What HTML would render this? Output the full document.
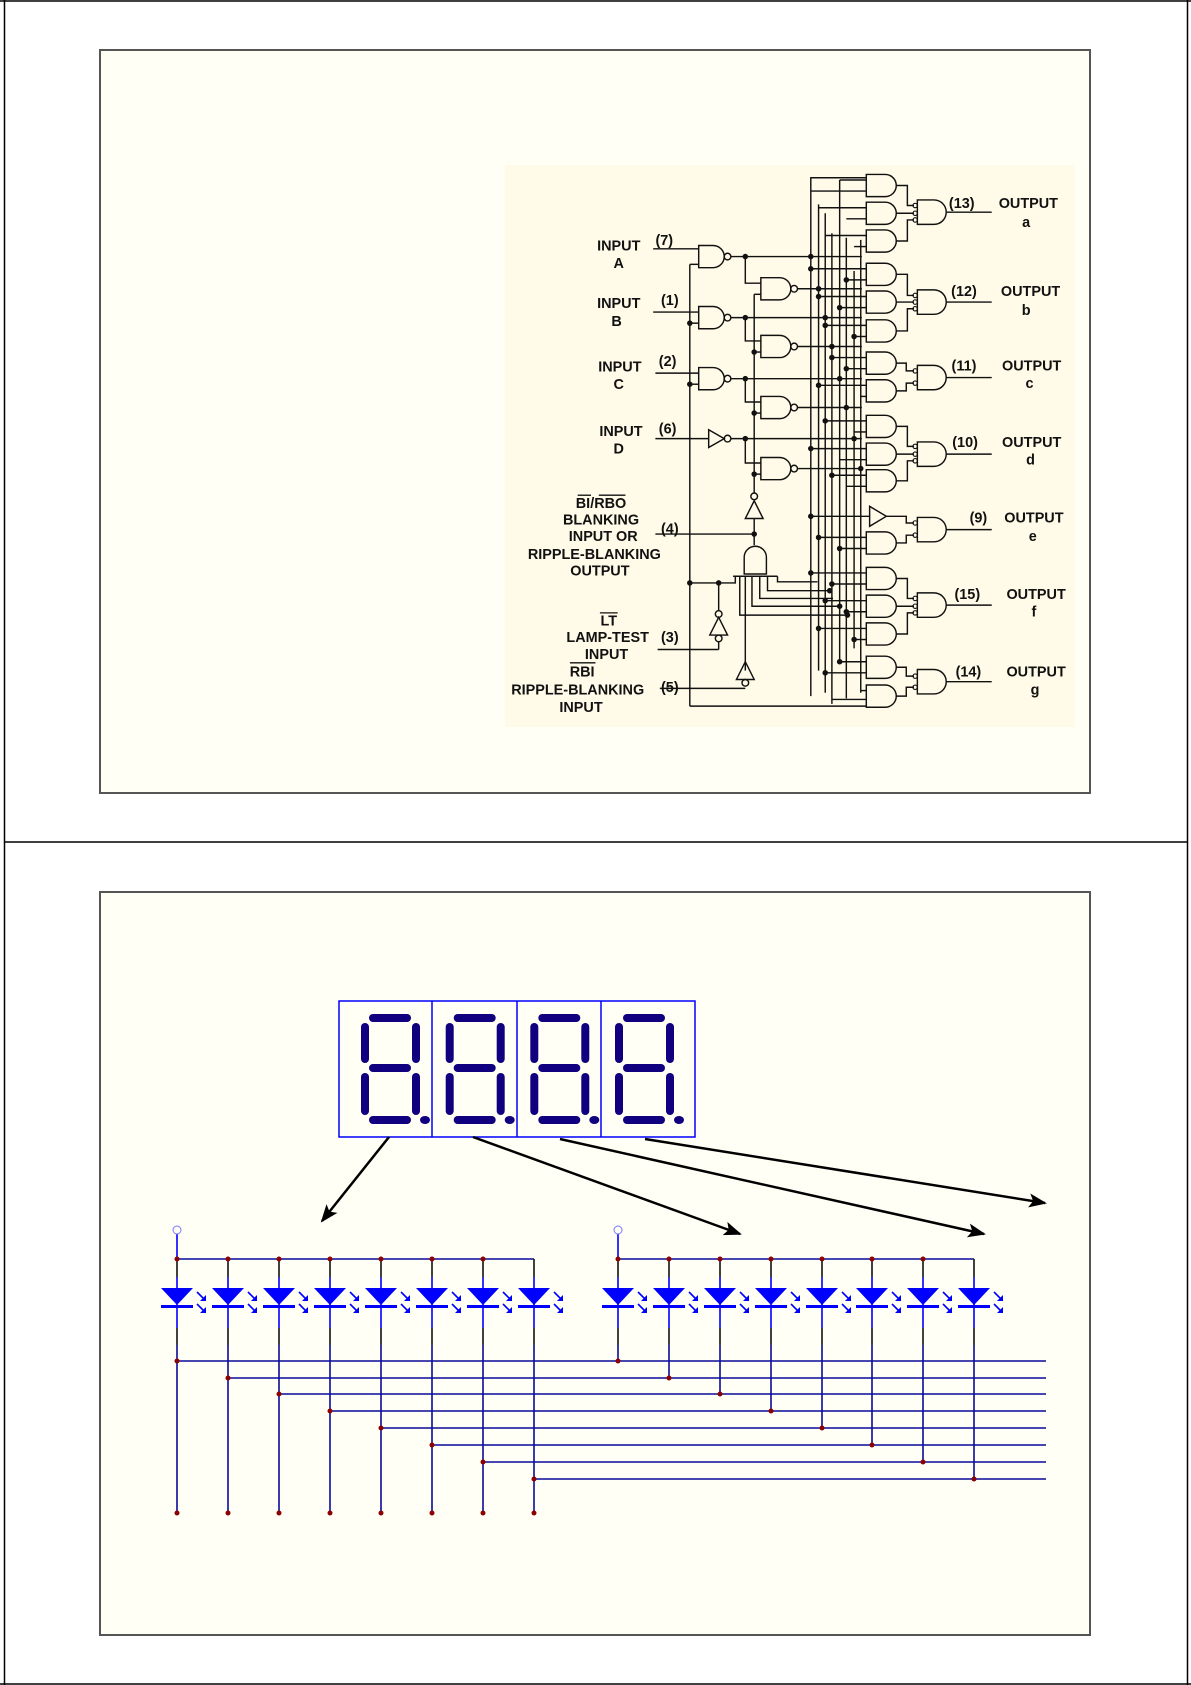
<!DOCTYPE html>
<html><head><meta charset="utf-8"><style>
html,body{margin:0;padding:0;background:#fff;}
body{width:1191px;height:1685px;position:relative;overflow:hidden;font-family:"Liberation Sans",sans-serif;}
svg{position:absolute;left:0;top:0;}
.t{font-family:"Liberation Sans",sans-serif;font-weight:bold;font-size:13px;fill:#111;text-anchor:middle;dominant-baseline:middle;}
</style></head><body>
<svg width="1191" height="1685" viewBox="0 0 1191 1685" xmlns="http://www.w3.org/2000/svg">
<defs>
<g id="led">
<line x1="0" y1="0" x2="0" y2="18" stroke="#111" stroke-width="1.6"/>
<line x1="0" y1="18" x2="0" y2="69" stroke="#0000ff" stroke-width="1.6"/>
<line x1="0" y1="69" x2="0" y2="86" stroke="#111" stroke-width="1.6"/>
<polygon points="-16,29 16,29 0,46" fill="#0000ff"/>
<rect x="-16" y="46" width="32" height="3" fill="#0000ff"/>
<g stroke="#0000ff" stroke-width="1.6" fill="#0000ff">
<line x1="20" y1="33" x2="27" y2="40"/><polygon points="29,42 29,36 23,42" stroke="none"/>
<line x1="20" y1="45" x2="27" y2="52"/><polygon points="29,54 29,48 23,54" stroke="none"/>
</g>
</g>
<g id="dig" fill="#10007f">
<rect x="369" y="1014" width="42" height="8" rx="4"/>
<rect x="369" y="1064" width="42" height="8" rx="4"/>
<rect x="369" y="1116" width="42" height="8" rx="4"/>
<rect x="361" y="1023" width="8" height="40" rx="4"/>
<rect x="361" y="1073" width="8" height="42" rx="4"/>
<rect x="412" y="1023" width="8" height="40" rx="4"/>
<rect x="412" y="1073" width="8" height="42" rx="4"/>
<ellipse cx="425" cy="1120" rx="5" ry="4"/>
</g>
<marker id="ah" markerWidth="18" markerHeight="14" refX="16" refY="7" orient="auto" markerUnits="userSpaceOnUse">
<polygon points="0,0 18,7 0,14 4,7" fill="#000"/>
</marker>
</defs>

<!-- page frame -->
<line x1="4.5" y1="0" x2="4.5" y2="1685" stroke="#000" stroke-width="1.5"/>
<line x1="1187.5" y1="0" x2="1187.5" y2="1685" stroke="#000" stroke-width="1.5"/>
<line x1="0" y1="1" x2="1191" y2="1" stroke="#000" stroke-width="1.5"/>
<line x1="4" y1="842" x2="1188" y2="842" stroke="#000" stroke-width="1.5"/>
<line x1="0" y1="1684" x2="1191" y2="1684" stroke="#000" stroke-width="1.5"/>

<rect x="100" y="50" width="990" height="743" fill="#fffff6" stroke="#555" stroke-width="2"/>
<rect x="100" y="892" width="990" height="743" fill="#fffff6" stroke="#555" stroke-width="2"/>

<!-- ===== TOP SCHEMATIC ===== -->
<rect x="505" y="165" width="570" height="562" fill="#fffbe8"/>
<g transform="translate(500,160) scale(1.11) translate(-500,-160)">
<g stroke="#111" stroke-width="1.3" fill="none">
<line x1="638" y1="240" x2="679" y2="240"/>
<line x1="638" y1="297" x2="679" y2="297"/>
<line x1="640" y1="352" x2="679" y2="352"/>
<line x1="640" y1="411" x2="688" y2="411"/>
<line x1="640" y1="497" x2="729" y2="497"/>
<line x1="642" y1="601" x2="697" y2="601"/>
<line x1="644" y1="636" x2="721" y2="636"/>
<line x1="671" y1="254" x2="671" y2="652"/>
<line x1="671" y1="254" x2="679" y2="254"/>
<line x1="671" y1="307" x2="679" y2="307"/>
<line x1="671" y1="362" x2="679" y2="362"/>
<line x1="671" y1="652" x2="830" y2="652"/>
<path d="M679,237 H692 A10,10 0 0 1 692,257 H679 Z"/><circle cx="705" cy="247" r="3"/>
<path d="M679,292 H692 A10,10 0 0 1 692,312 H679 Z"/><circle cx="705" cy="302" r="3"/>
<path d="M679,347 H692 A10,10 0 0 1 692,367 H679 Z"/><circle cx="705" cy="357" r="3"/>
<path d="M688,403 L688,419 L702,411 Z"/><circle cx="705" cy="411" r="3"/>
<line x1="708" y1="247" x2="826" y2="247"/>
<line x1="708" y1="302" x2="826" y2="302"/>
<line x1="708" y1="357" x2="826" y2="357"/>
<line x1="708" y1="411" x2="826" y2="411"/>
<polyline points="721,247 721,271 735,271"/>
<polyline points="721,302 721,323 735,323"/>
<polyline points="721,357 721,378 735,378"/>
<polyline points="721,411 721,433 735,433"/>
<line x1="729" y1="281" x2="729" y2="460"/>
<line x1="729" y1="281" x2="735" y2="281"/>
<line x1="729" y1="333" x2="735" y2="333"/>
<line x1="729" y1="388" x2="735" y2="388"/>
<line x1="729" y1="443" x2="735" y2="443"/>
<path d="M735,266 H752 A10,10 0 0 1 752,286 H735 Z"/><circle cx="765" cy="276" r="3"/>
<path d="M735,318 H752 A10,10 0 0 1 752,338 H735 Z"/><circle cx="765" cy="328" r="3"/>
<path d="M735,373 H752 A10,10 0 0 1 752,393 H735 Z"/><circle cx="765" cy="383" r="3"/>
<path d="M735,428 H752 A10,10 0 0 1 752,448 H735 Z"/><circle cx="765" cy="438" r="3"/>
<line x1="768" y1="276" x2="826" y2="276"/>
<line x1="768" y1="328" x2="826" y2="328"/>
<line x1="768" y1="383" x2="826" y2="383"/>
<line x1="768" y1="438" x2="826" y2="438"/>
<circle cx="729" cy="463" r="3"/>
<path d="M721,483 L737,483 L729,467 Z"/>
<line x1="729" y1="483" x2="729" y2="507"/>
<path d="M720,533 V518 A10,10 0 0 1 740,518 V533 Z"/>
<line x1="710" y1="535" x2="750" y2="535"/>
<polyline points="750,535 750,540 786,540"/>
<polyline points="671,541 712,541 712,535"/>
<polyline points="741,535 741,548 797,548"/>
<polyline points="734,535 734,555 800,555"/>
<polyline points="727,535 727,562 806,562"/>
<polyline points="721,535 721,620"/>
<polyline points="716,535 716,570 813,570"/>
<polyline points="697,541 697,566"/><circle cx="697" cy="569" r="3"/>
<path d="M689,588 L705,588 L697,572 Z"/><circle cx="697" cy="591" r="3"/>
<line x1="697" y1="594" x2="697" y2="601"/>
<path d="M713,628 L729,628 L721,612 Z"/><circle cx="721" cy="631" r="3"/>
<line x1="780" y1="183" x2="780" y2="643"/>
<line x1="787" y1="200" x2="787" y2="620"/>
<line x1="793" y1="208" x2="793" y2="640"/>
<line x1="799" y1="226" x2="799" y2="650"/>
<line x1="806" y1="178" x2="806" y2="612"/>
<line x1="812" y1="230" x2="812" y2="645"/>
<line x1="819" y1="260" x2="819" y2="600"/>
<line x1="825" y1="232" x2="825" y2="640"/>
<polyline points="780,183 780,176 830,176"/>
<line x1="806" y1="178" x2="830" y2="178"/><line x1="780" y1="188" x2="830" y2="188"/>
<line x1="787" y1="203" x2="830" y2="203"/><line x1="812" y1="213" x2="830" y2="213"/>
<line x1="793" y1="228" x2="830" y2="228"/><line x1="819" y1="238" x2="830" y2="238"/>
<line x1="780" y1="258" x2="830" y2="258"/><line x1="812" y1="268" x2="830" y2="268"/>
<line x1="787" y1="283" x2="830" y2="283"/><line x1="806" y1="293" x2="830" y2="293"/>
<line x1="793" y1="309" x2="830" y2="309"/><line x1="819" y1="319" x2="830" y2="319"/>
<line x1="799" y1="338" x2="830" y2="338"/><line x1="812" y1="348" x2="830" y2="348"/>
<line x1="787" y1="363" x2="830" y2="363"/><line x1="825" y1="373" x2="830" y2="373"/>
<line x1="793" y1="395" x2="830" y2="395"/><line x1="819" y1="405" x2="830" y2="405"/>
<line x1="780" y1="420" x2="830" y2="420"/><line x1="806" y1="430" x2="830" y2="430"/>
<line x1="799" y1="444" x2="830" y2="444"/><line x1="812" y1="454" x2="830" y2="454"/>
<line x1="780" y1="481" x2="833" y2="481"/>
<line x1="787" y1="500" x2="830" y2="500"/><line x1="806" y1="510" x2="830" y2="510"/>
<line x1="780" y1="532" x2="830" y2="532"/><line x1="799" y1="542" x2="830" y2="542"/>
<line x1="793" y1="557" x2="830" y2="557"/><line x1="812" y1="567" x2="830" y2="567"/>
<line x1="787" y1="582" x2="830" y2="582"/><line x1="819" y1="592" x2="830" y2="592"/>
<line x1="806" y1="612" x2="830" y2="612"/><line x1="793" y1="622" x2="830" y2="622"/>
<line x1="825" y1="638" x2="830" y2="638"/><line x1="799" y1="646" x2="830" y2="646"/>
<path d="M830,173 H847 A10,10 0 0 1 847,193 H830 Z"/>
<path d="M830,198 H847 A10,10 0 0 1 847,218 H830 Z"/>
<path d="M830,223 H847 A10,10 0 0 1 847,243 H830 Z"/>
<path d="M830,253 H847 A10,10 0 0 1 847,273 H830 Z"/>
<path d="M830,278 H847 A10,10 0 0 1 847,298 H830 Z"/>
<path d="M830,304 H847 A10,10 0 0 1 847,324 H830 Z"/>
<path d="M830,333 H847 A10,10 0 0 1 847,353 H830 Z"/>
<path d="M830,358 H847 A10,10 0 0 1 847,378 H830 Z"/>
<path d="M830,390 H847 A10,10 0 0 1 847,410 H830 Z"/>
<path d="M830,415 H847 A10,10 0 0 1 847,435 H830 Z"/>
<path d="M830,439 H847 A10,10 0 0 1 847,459 H830 Z"/>
<path d="M833,472 L833,490 L848,481 Z"/>
<path d="M830,495 H847 A10,10 0 0 1 847,515 H830 Z"/>
<path d="M830,527 H847 A10,10 0 0 1 847,547 H830 Z"/>
<path d="M830,552 H847 A10,10 0 0 1 847,572 H830 Z"/>
<path d="M830,577 H847 A10,10 0 0 1 847,597 H830 Z"/>
<path d="M830,607 H847 A10,10 0 0 1 847,627 H830 Z"/>
<path d="M830,633 H847 A10,10 0 0 1 847,653 H830 Z"/>
<polyline points="857,183 867,183 867,201 873,201"/>
<line x1="857" y1="208" x2="873" y2="208"/>
<polyline points="857,233 867,233 867,214 873,214"/>
<polyline points="857,263 867,263 867,282 873,282"/>
<line x1="857" y1="288" x2="873" y2="288"/>
<polyline points="857,314 867,314 867,294 873,294"/>
<polyline points="857,343 866,343 866,350 873,350"/>
<polyline points="857,368 866,368 866,361 873,361"/>
<polyline points="857,400 867,400 867,418 873,418"/>
<line x1="857" y1="425" x2="873" y2="425"/>
<polyline points="857,449 867,449 867,431 873,431"/>
<polyline points="848,481 866,481 866,487 873,487"/>
<polyline points="857,505 866,505 866,498 873,498"/>
<polyline points="857,537 867,537 867,555 873,555"/>
<line x1="857" y1="562" x2="873" y2="562"/>
<polyline points="857,587 867,587 867,568 873,568"/>
<polyline points="857,617 866,617 866,625 873,625"/>
<polyline points="857,643 866,643 866,635 873,635"/>
<path d="M876,196 H891 A11,11 0 0 1 891,218 H876 Z"/>
<path d="M876,277 H891 A11,11 0 0 1 891,299 H876 Z"/>
<path d="M876,345 H891 A11,11 0 0 1 891,367 H876 Z"/>
<path d="M876,414 H891 A11,11 0 0 1 891,436 H876 Z"/>
<path d="M876,482 H891 A11,11 0 0 1 891,504 H876 Z"/>
<path d="M876,550 H891 A11,11 0 0 1 891,572 H876 Z"/>
<path d="M876,619 H891 A11,11 0 0 1 891,641 H876 Z"/>
<g stroke-width="1"><circle cx="874" cy="201" r="2"/><circle cx="874" cy="208" r="2"/><circle cx="874" cy="214" r="2"/>
<circle cx="874" cy="282" r="2"/><circle cx="874" cy="288" r="2"/><circle cx="874" cy="294" r="2"/>
<circle cx="874" cy="350" r="2"/><circle cx="874" cy="361" r="2"/>
<circle cx="874" cy="418" r="2"/><circle cx="874" cy="425" r="2"/><circle cx="874" cy="431" r="2"/>
<circle cx="874" cy="487" r="2"/><circle cx="874" cy="498" r="2"/>
<circle cx="874" cy="555" r="2"/><circle cx="874" cy="562" r="2"/><circle cx="874" cy="568" r="2"/>
<circle cx="874" cy="625" r="2"/><circle cx="874" cy="635" r="2"/></g>
<line x1="902" y1="207" x2="943" y2="207"/>
<line x1="902" y1="288" x2="943" y2="288"/>
<line x1="902" y1="356" x2="943" y2="356"/>
<line x1="902" y1="425" x2="943" y2="425"/>
<line x1="902" y1="493" x2="943" y2="493"/>
<line x1="902" y1="561" x2="943" y2="561"/>
<line x1="902" y1="630" x2="943" y2="630"/>
</g>
<g fill="#111">
<circle cx="721" cy="247" r="2.5"/><circle cx="721" cy="302" r="2.5"/><circle cx="721" cy="357" r="2.5"/><circle cx="721" cy="411" r="2.5"/>
<circle cx="729" cy="333" r="2.5"/><circle cx="729" cy="388" r="2.5"/><circle cx="729" cy="443" r="2.5"/><circle cx="729" cy="497" r="2.5"/>
<circle cx="671" cy="307" r="2.5"/><circle cx="671" cy="362" r="2.5"/><circle cx="671" cy="541" r="2.5"/><circle cx="697" cy="541" r="2.5"/>
<circle cx="780" cy="247" r="2.5"/><circle cx="787" cy="276" r="2.5"/><circle cx="793" cy="302" r="2.5"/><circle cx="799" cy="328" r="2.5"/>
<circle cx="806" cy="357" r="2.5"/><circle cx="812" cy="383" r="2.5"/><circle cx="819" cy="411" r="2.5"/><circle cx="825" cy="438" r="2.5"/>
<circle cx="780" cy="258" r="2.5"/><circle cx="787" cy="283" r="2.5"/><circle cx="793" cy="309" r="2.5"/><circle cx="799" cy="338" r="2.5"/>
<circle cx="812" cy="268" r="2.5"/><circle cx="806" cy="293" r="2.5"/><circle cx="819" cy="319" r="2.5"/><circle cx="812" cy="348" r="2.5"/>
<circle cx="787" cy="363" r="2.5"/><circle cx="793" cy="395" r="2.5"/><circle cx="780" cy="420" r="2.5"/><circle cx="799" cy="444" r="2.5"/>
<circle cx="780" cy="481" r="2.5"/><circle cx="787" cy="500" r="2.5"/><circle cx="806" cy="510" r="2.5"/><circle cx="780" cy="532" r="2.5"/>
<circle cx="799" cy="542" r="2.5"/><circle cx="793" cy="557" r="2.5"/><circle cx="812" cy="567" r="2.5"/><circle cx="787" cy="582" r="2.5"/>
<circle cx="819" cy="592" r="2.5"/><circle cx="806" cy="612" r="2.5"/><circle cx="793" cy="622" r="2.5"/><circle cx="806" cy="562" r="2.5"/>
<circle cx="813" cy="570" r="2.5"/><circle cx="797" cy="548" r="2.5"/>
</g>
<text class="t" x="607" y="238">INPUT</text><text class="t" x="607" y="254">A</text>
<text class="t" x="648" y="233">(7)</text>
<text class="t" x="607" y="290">INPUT</text><text class="t" x="605" y="306">B</text>
<text class="t" x="653" y="287">(1)</text>
<text class="t" x="608" y="347">INPUT</text><text class="t" x="607" y="363">C</text>
<text class="t" x="651" y="342">(2)</text>
<text class="t" x="609" y="405">INPUT</text><text class="t" x="607" y="421">D</text>
<text class="t" x="651" y="403">(6)</text>
<text class="t" x="591" y="470">BI/RBO</text>
<line x1="570" y1="462" x2="582" y2="462" stroke="#111" stroke-width="1.2"/><line x1="589" y1="462" x2="613" y2="462" stroke="#111" stroke-width="1.2"/>
<text class="t" x="591" y="485">BLANKING</text>
<text class="t" x="593" y="500">INPUT OR</text>
<text class="t" x="585" y="516">RIPPLE-BLANKING</text>
<text class="t" x="590" y="531">OUTPUT</text>
<text class="t" x="653" y="493">(4)</text>
<text class="t" x="598" y="576">LT</text><line x1="590" y1="568" x2="606" y2="568" stroke="#111" stroke-width="1.2"/>
<text class="t" x="597" y="591">LAMP-TEST</text>
<text class="t" x="596" y="606">INPUT</text>
<text class="t" x="653" y="591">(3)</text>
<text class="t" x="574" y="622">RBI</text><line x1="563" y1="613" x2="586" y2="613" stroke="#111" stroke-width="1.2"/>
<text class="t" x="570" y="638">RIPPLE-BLANKING</text>
<text class="t" x="573" y="654">INPUT</text>
<text class="t" x="653" y="636">(5)</text>
<text class="t" x="916" y="200">(13)</text><text class="t" x="976" y="200">OUTPUT</text><text class="t" x="974" y="217" font-size="11">a</text>
<text class="t" x="918" y="279">(12)</text><text class="t" x="978" y="279">OUTPUT</text><text class="t" x="974" y="296" font-size="11">b</text>
<text class="t" x="918" y="346">(11)</text><text class="t" x="979" y="346">OUTPUT</text><text class="t" x="977" y="362" font-size="11">c</text>
<text class="t" x="919" y="415">(10)</text><text class="t" x="979" y="415">OUTPUT</text><text class="t" x="978" y="431" font-size="11">d</text>
<text class="t" x="931" y="483">(9)</text><text class="t" x="981" y="483">OUTPUT</text><text class="t" x="980" y="500" font-size="11">e</text>
<text class="t" x="921" y="552">(15)</text><text class="t" x="983" y="552">OUTPUT</text><text class="t" x="981" y="568" font-size="11">f</text>
<text class="t" x="922" y="622">(14)</text><text class="t" x="983" y="622">OUTPUT</text><text class="t" x="982" y="638" font-size="11">g</text>
</g>

<!-- ===== BOTTOM: DISPLAY ===== -->
<rect x="339" y="1001" width="356" height="136" fill="#fffff6" stroke="#0000ff" stroke-width="1.5"/>
<line x1="432" y1="1001" x2="432" y2="1137" stroke="#0000ff" stroke-width="1.5"/>
<line x1="517" y1="1001" x2="517" y2="1137" stroke="#0000ff" stroke-width="1.5"/>
<line x1="601" y1="1001" x2="601" y2="1137" stroke="#0000ff" stroke-width="1.5"/>
<use href="#dig"/>
<use href="#dig" x="84.7"/>
<use href="#dig" x="169.3"/>
<use href="#dig" x="254"/>
<g stroke="#000" stroke-width="2.5" marker-end="url(#ah)">
<line x1="389" y1="1137" x2="322" y2="1221"/>
<line x1="473" y1="1137" x2="740" y2="1234"/>
<line x1="560" y1="1139" x2="984" y2="1234"/>
<line x1="645" y1="1139" x2="1045" y2="1203"/>
</g>

<g stroke="#0a0a9a" stroke-width="1.6" fill="none">
<line x1="177" y1="1259" x2="534" y2="1259"/>
<line x1="618" y1="1259" x2="974" y2="1259"/>
<line x1="177" y1="1234" x2="177" y2="1259" stroke="#0000ff"/>
<line x1="618" y1="1234" x2="618" y2="1259" stroke="#0000ff"/>
<line x1="177" y1="1345" x2="177" y2="1513"/><line x1="228" y1="1345" x2="228" y2="1513"/>
<line x1="279" y1="1345" x2="279" y2="1513"/><line x1="330" y1="1345" x2="330" y2="1513"/>
<line x1="381" y1="1345" x2="381" y2="1513"/><line x1="432" y1="1345" x2="432" y2="1513"/>
<line x1="483" y1="1345" x2="483" y2="1513"/><line x1="534" y1="1345" x2="534" y2="1513"/>
<line x1="618" y1="1345" x2="618" y2="1361"/><line x1="669" y1="1345" x2="669" y2="1378"/>
<line x1="720" y1="1345" x2="720" y2="1394"/><line x1="771" y1="1345" x2="771" y2="1411"/>
<line x1="822" y1="1345" x2="822" y2="1428"/><line x1="872" y1="1345" x2="872" y2="1445"/>
<line x1="923" y1="1345" x2="923" y2="1462"/><line x1="974" y1="1345" x2="974" y2="1479"/>
<line x1="177" y1="1361" x2="1046" y2="1361"/><line x1="228" y1="1378" x2="1046" y2="1378"/>
<line x1="279" y1="1394" x2="1046" y2="1394"/><line x1="330" y1="1411" x2="1046" y2="1411"/>
<line x1="381" y1="1428" x2="1046" y2="1428"/><line x1="432" y1="1445" x2="1046" y2="1445"/>
<line x1="483" y1="1462" x2="1046" y2="1462"/><line x1="534" y1="1479" x2="1046" y2="1479"/>
</g>
<circle cx="177" cy="1230" r="4" fill="none" stroke="#7777ff" stroke-width="1"/>
<circle cx="618" cy="1230" r="4" fill="none" stroke="#7777ff" stroke-width="1"/>
<use href="#led" x="177" y="1259"/><use href="#led" x="228" y="1259"/><use href="#led" x="279" y="1259"/><use href="#led" x="330" y="1259"/>
<use href="#led" x="381" y="1259"/><use href="#led" x="432" y="1259"/><use href="#led" x="483" y="1259"/><use href="#led" x="534" y="1259"/>
<use href="#led" x="618" y="1259"/><use href="#led" x="669" y="1259"/><use href="#led" x="720" y="1259"/><use href="#led" x="771" y="1259"/>
<use href="#led" x="822" y="1259"/><use href="#led" x="872" y="1259"/><use href="#led" x="923" y="1259"/><use href="#led" x="974" y="1259"/>
<g fill="#8b0000">
<circle cx="177" cy="1259" r="2.5"/><circle cx="228" cy="1259" r="2.5"/><circle cx="279" cy="1259" r="2.5"/><circle cx="330" cy="1259" r="2.5"/>
<circle cx="381" cy="1259" r="2.5"/><circle cx="432" cy="1259" r="2.5"/><circle cx="483" cy="1259" r="2.5"/>
<circle cx="618" cy="1259" r="2.5"/><circle cx="669" cy="1259" r="2.5"/><circle cx="720" cy="1259" r="2.5"/><circle cx="771" cy="1259" r="2.5"/>
<circle cx="822" cy="1259" r="2.5"/><circle cx="872" cy="1259" r="2.5"/><circle cx="923" cy="1259" r="2.5"/>
<circle cx="177" cy="1361" r="2.5"/><circle cx="228" cy="1378" r="2.5"/><circle cx="279" cy="1394" r="2.5"/><circle cx="330" cy="1411" r="2.5"/>
<circle cx="381" cy="1428" r="2.5"/><circle cx="432" cy="1445" r="2.5"/><circle cx="483" cy="1462" r="2.5"/><circle cx="534" cy="1479" r="2.5"/>
<circle cx="618" cy="1361" r="2.5"/><circle cx="669" cy="1378" r="2.5"/><circle cx="720" cy="1394" r="2.5"/><circle cx="771" cy="1411" r="2.5"/>
<circle cx="822" cy="1428" r="2.5"/><circle cx="872" cy="1445" r="2.5"/><circle cx="923" cy="1462" r="2.5"/><circle cx="974" cy="1479" r="2.5"/>
<circle cx="177" cy="1513" r="2.5"/><circle cx="228" cy="1513" r="2.5"/><circle cx="279" cy="1513" r="2.5"/><circle cx="330" cy="1513" r="2.5"/>
<circle cx="381" cy="1513" r="2.5"/><circle cx="432" cy="1513" r="2.5"/><circle cx="483" cy="1513" r="2.5"/><circle cx="534" cy="1513" r="2.5"/>
</g>
</svg>
</body></html>
